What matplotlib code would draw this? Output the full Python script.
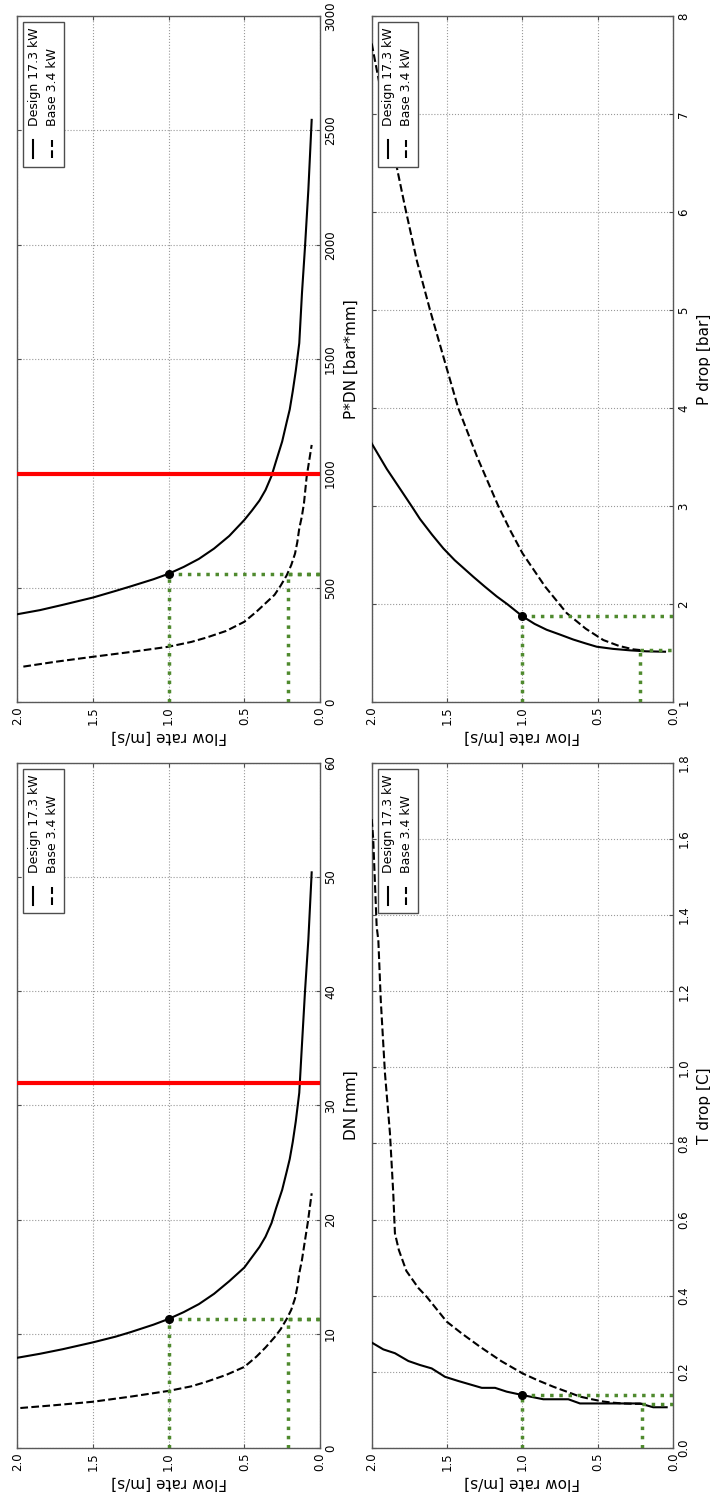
import numpy as np
import matplotlib
matplotlib.use('Agg')
import matplotlib.pyplot as plt
from matplotlib.patches import Rectangle
from matplotlib.lines import Line2D

# flow rate axis (shared by all panels)
flow_ticks = [0.0, 0.5, 1.0, 1.5, 2.0]

# DN [mm]
dn_flow_design = [2.0, 1.85, 1.7, 1.5, 1.35, 1.25, 1.1, 1.0, 0.9, 0.8, 0.7, 0.6, 0.5, 0.45, 0.4,
                  0.36, 0.32, 0.29, 0.25, 0.22, 0.2, 0.18, 0.16, 0.137, 0.121, 0.099, 0.077, 0.055]
dn_design = [7.9, 8.25, 8.65, 9.25, 9.75, 10.15, 10.8, 11.3, 11.9, 12.6, 13.5, 14.6, 15.8, 16.7, 17.6,
             18.5, 19.7, 21.0, 22.6, 24.2, 25.3, 26.8, 28.6, 31.1, 34.9, 40.0, 44.5, 50.4]
dn_flow_base = [1.98, 1.75, 1.5, 1.25, 1.0, 0.85, 0.75, 0.62, 0.5, 0.42, 0.36, 0.3, 0.26, 0.22,
                0.19, 0.165, 0.15, 0.137, 0.12, 0.106, 0.08, 0.055]
dn_base = [3.5, 3.75, 4.05, 4.5, 5.0, 5.4, 5.8, 6.4, 7.1, 8.0, 8.8, 9.7, 10.4, 11.3,
           12.1, 13.1, 14.1, 15.3, 16.4, 17.6, 19.8, 22.3]
dn_limit = 32.0

# P*DN [bar*mm]
pdn_flow_design = [2.0, 1.85, 1.7, 1.5, 1.35, 1.25, 1.1, 1.0, 0.9, 0.8, 0.7, 0.6, 0.5, 0.45, 0.4,
                   0.36, 0.32, 0.29, 0.25, 0.22, 0.2, 0.18, 0.16, 0.137, 0.119, 0.099, 0.077, 0.055]
pdn_design = [385, 403, 426, 458, 487, 507, 538, 562, 592, 627, 672, 727, 797, 838, 882,
              928, 990, 1055, 1140, 1225, 1280, 1360, 1450, 1570, 1790, 1992, 2240, 2546]
pdn_flow_base = [1.96, 1.75, 1.5, 1.25, 1.0, 0.85, 0.75, 0.62, 0.5, 0.42, 0.36, 0.3, 0.26, 0.22,
                 0.19, 0.165, 0.15, 0.137, 0.12, 0.106, 0.088, 0.055]
pdn_base = [156, 177, 199, 220, 243, 264, 283, 312, 352, 396, 433, 470, 510, 555,
            600, 650, 700, 760, 812, 870, 987, 1125]
pdn_limit = 1000

# P drop [bar]
p_flow_design = [2.0, 1.9, 1.8, 1.735, 1.68, 1.6, 1.525, 1.45, 1.326, 1.25, 1.171, 1.1, 1.0,
                 0.92, 0.84, 0.75, 0.663, 0.58, 0.508, 0.4, 0.287, 0.18, 0.055]
p_design = [3.64, 3.38, 3.15, 3.0, 2.87, 2.71, 2.57, 2.45, 2.28, 2.18, 2.08, 2.0, 1.877,
            1.80, 1.74, 1.69, 1.64, 1.60, 1.567, 1.545, 1.53, 1.52, 1.516]
p_flow_base = [2.0, 1.92, 1.834, 1.78, 1.7, 1.613, 1.52, 1.426, 1.3, 1.16, 1.08, 1.0, 0.85,
               0.707, 0.58, 0.464, 0.36, 0.265, 0.2]
p_base = [7.72, 7.08, 6.46, 6.06, 5.5, 5.0, 4.5, 4.0, 3.5, 3.0, 2.75, 2.52, 2.18,
          1.91, 1.75, 1.635, 1.575, 1.54, 1.53]

# T drop [C]
t_flow_design = [2.0, 1.923, 1.846, 1.757, 1.68, 1.602, 1.514, 1.426, 1.27, 1.182, 1.105, 1.0,
                 0.862, 0.696, 0.619, 0.221, 0.133, 0.044]
t_design = [0.277, 0.259, 0.249, 0.2285, 0.218, 0.209, 0.187, 0.176, 0.158, 0.158, 0.148, 0.139,
            0.128, 0.128, 0.117, 0.117, 0.107, 0.107]
t_flow_base = [2.0, 1.99, 1.967, 1.956, 1.94, 1.912, 1.879, 1.857, 1.846, 1.82, 1.77, 1.69,
               1.635, 1.57, 1.503, 1.4, 1.282, 1.14, 1.0, 0.9, 0.796, 0.7, 0.619, 0.54,
               0.464, 0.4, 0.332, 0.26, 0.2]
t_base = [1.652, 1.60, 1.369, 1.334, 1.177, 0.984, 0.827, 0.669, 0.564, 0.52, 0.465, 0.42,
          0.397, 0.365, 0.332, 0.30, 0.266, 0.228, 0.196, 0.178, 0.161, 0.147, 0.135, 0.128,
          0.122, 0.119, 0.117, 0.116, 0.116]

# operating points: design flow, base flow, and levels read on each panel
op_flow = 1.0
dn_op, dn_base_flow, dn_base_op = 11.3, 0.21, 11.3
pdn_op, pdn_base_flow, pdn_base_op = 560, 0.21, 560
p_op, p_base_flow, p_base_op = 1.877, 0.22, 1.536
t_op, t_base_flow, t_base_op = 0.139, 0.21, 0.116

GREEN = '#4f8a2e'

fig = plt.figure(figsize=(7.1, 14.95), dpi=100)

# the whole chart is turned a quarter turn: flow runs right->left, quantity runs bottom->top
ax_pdn = fig.add_axes([0.02437, 0.53023, 0.42634, 0.45906])
ax_p = fig.add_axes([0.52352, 0.53023, 0.42479, 0.45906])
ax_dn = fig.add_axes([0.02437, 0.03144, 0.42634, 0.45839])
ax_t = fig.add_axes([0.52352, 0.03144, 0.42479, 0.45839])


def setup_axis(ax, ylim, yticks, ylabel, yfmt):
    ax.set_xlim(2.0, 0.0)
    ax.set_ylim(*ylim)
    ax.set_xticks(flow_ticks)
    ax.set_xticklabels([f'{t:.1f}' for t in flow_ticks], rotation=90, fontsize=8.5)
    ax.set_yticks(yticks)
    ax.set_yticklabels([yfmt.format(t) for t in yticks], rotation=90, va='center', fontsize=8.5)
    ax.yaxis.tick_right()
    ax.yaxis.set_label_position('right')
    ax.set_ylabel(ylabel, fontsize=11, rotation=90, labelpad=5)
    ax.set_xlabel('Flow rate [m/s]', fontsize=11, rotation=180, labelpad=3)
    ax.tick_params(direction='in', top=True, bottom=True, left=True, right=True,
                   length=3, pad=3, colors='0.3', labelcolor='k')
    ax.grid(True, color='0.6', linestyle=':', linewidth=0.8)
    for s in ax.spines.values():
        s.set_color('0.35')
        s.set_linewidth(1.0)


def rot_legend(ax):
    # legend drawn by hand so it can be turned with the rest of the chart
    pos = ax.get_position()
    aw = pos.width * fig.get_figwidth() * fig.dpi
    ah = pos.height * fig.get_figheight() * fig.dpi
    fx = lambda px: px / aw
    fy = lambda py: 1 - py / ah
    ax.add_patch(Rectangle((fx(6), fy(150.7)), fx(40.7), 144.4 / ah, transform=ax.transAxes,
                           facecolor='white', edgecolor='0.3', lw=1, zorder=10))
    for xl, xt, ls, label in [(16, 17, '-', 'Design 17.3 kW'), (34.4, 35.2, '--', 'Base 3.4 kW')]:
        ax.add_line(Line2D([fx(xl), fx(xl)], [fy(142), fy(124)], transform=ax.transAxes,
                           color='k', lw=1.5, ls=ls, zorder=11))
        ax.text(fx(xt), fy(110), label, rotation=90, ha='center', va='bottom', fontsize=9,
                transform=ax.transAxes, zorder=11)


def draw_panel(ax, fd, yd, fb, yb, ymin, op, bflow, bop, limit=None):
    ax.plot(fd, yd, 'k-', lw=1.5, zorder=3)
    ax.plot(fb, yb, 'k--', lw=1.5, zorder=3)
    kw = dict(color=GREEN, ls=':', lw=2.5, zorder=4)
    ax.plot([op_flow, op_flow], [ymin, op], **kw)
    ax.plot([op_flow, 0.0], [op, op], **kw)
    ax.plot([bflow, bflow], [ymin, bop], **kw)
    ax.plot([bflow, 0.0], [bop, bop], **kw)
    ax.plot(op_flow, op, 'ko', ms=5.5, zorder=5)
    if limit is not None:
        ax.axhline(limit, color='red', lw=3, zorder=4)


setup_axis(ax_pdn, (0, 3000), np.arange(0, 3001, 500), 'P*DN [bar*mm]', '{:.0f}')
draw_panel(ax_pdn, pdn_flow_design, pdn_design, pdn_flow_base, pdn_base, 0,
           pdn_op, pdn_base_flow, pdn_base_op, pdn_limit)

setup_axis(ax_p, (1, 8), np.arange(1, 9, 1), 'P drop [bar]', '{:.0f}')
draw_panel(ax_p, p_flow_design, p_design, p_flow_base, p_base, 1,
           p_op, p_base_flow, p_base_op)

setup_axis(ax_dn, (0, 60), np.arange(0, 61, 10), 'DN [mm]', '{:.0f}')
draw_panel(ax_dn, dn_flow_design, dn_design, dn_flow_base, dn_base, 0,
           dn_op, dn_base_flow, dn_base_op, dn_limit)

setup_axis(ax_t, (0, 1.8), np.round(np.arange(0, 1.81, 0.2), 1), 'T drop [C]', '{:.1f}')
draw_panel(ax_t, t_flow_design, t_design, t_flow_base, t_base, 0,
           t_op, t_base_flow, t_base_op)

for ax in (ax_pdn, ax_p, ax_dn, ax_t):
    rot_legend(ax)

fig.savefig('out.png', dpi=100)
